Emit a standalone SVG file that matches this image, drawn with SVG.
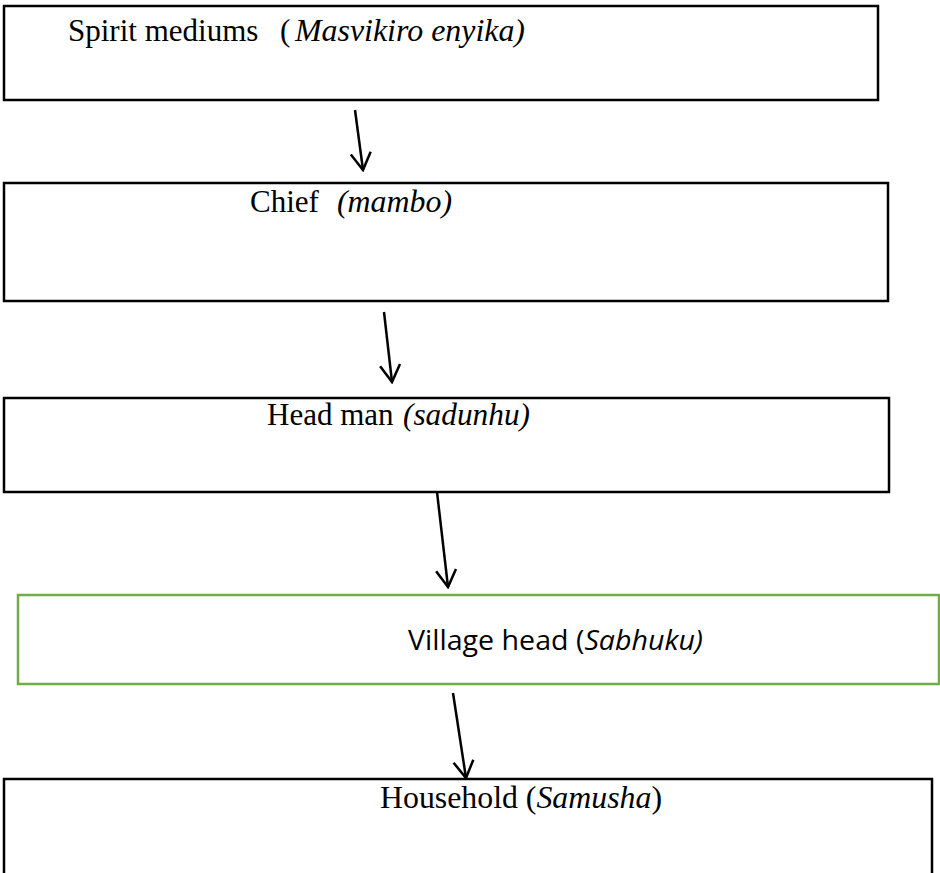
<svg xmlns="http://www.w3.org/2000/svg" width="940" height="873" viewBox="0 0 940 873">
<style>
.box{fill:#fff;stroke:#000;stroke-width:2.5}
.gbox{fill:#fff;stroke:#70ad47;stroke-width:2.5}
.t{font-family:"Liberation Serif","Times New Roman",serif;font-size:31px;fill:#000}
.c{font-family:"Open Sans","Liberation Sans",sans-serif;font-size:27px;fill:#000}
.i{font-style:italic}
.arr{stroke:#000;stroke-width:2.5;fill:none}
</style>
<defs>
<marker id="ah" viewBox="-20 -12 22 24" refX="0" refY="0" markerWidth="22" markerHeight="24" markerUnits="userSpaceOnUse" orient="auto">
<path d="M-17,-10 L0,0 L-17,10" fill="none" stroke="#000" stroke-width="2.5" stroke-linejoin="miter"/>
</marker>
</defs>
<g id="n1"><rect class="box" x="4" y="6" width="874" height="94"/><text class="t" y="41"><tspan x="68">Spirit mediums</tspan><tspan x="280">(</tspan><tspan x="295" class="i" textLength="230" lengthAdjust="spacingAndGlyphs">Masvikiro enyika)</tspan></text></g>
<g id="n2"><rect class="box" x="4" y="183" width="884" height="118"/><text class="t" y="212"><tspan x="250">Chief</tspan><tspan x="337" class="i" textLength="115" lengthAdjust="spacingAndGlyphs">(mambo)</tspan></text></g>
<g id="n3"><rect class="box" x="4" y="398" width="885" height="94"/><text class="t" y="425"><tspan x="267">Head man</tspan><tspan x="403" class="i" textLength="127" lengthAdjust="spacingAndGlyphs">(sadunhu)</tspan></text></g>
<g id="n4"><rect class="gbox" x="18" y="595" width="921" height="89"/><text class="c" x="408" y="650" textLength="295" lengthAdjust="spacingAndGlyphs">Village head (<tspan class="i">Sabhuku)</tspan></text></g>
<g id="n5"><path class="box" d="M4,873 V779 H932 V873"/><text class="t" x="380" y="808" textLength="282" lengthAdjust="spacingAndGlyphs">Household (<tspan class="i">Samusha</tspan>)</text></g>
<g id="connectors">
<line class="arr" x1="355" y1="110" x2="363" y2="170" marker-end="url(#ah)"/>
<line class="arr" x1="384" y1="312" x2="392" y2="382" marker-end="url(#ah)"/>
<line class="arr" x1="437" y1="492" x2="448" y2="587" marker-end="url(#ah)"/>
<line class="arr" x1="453" y1="693" x2="466" y2="778" marker-end="url(#ah)"/>
</g>
</svg>
